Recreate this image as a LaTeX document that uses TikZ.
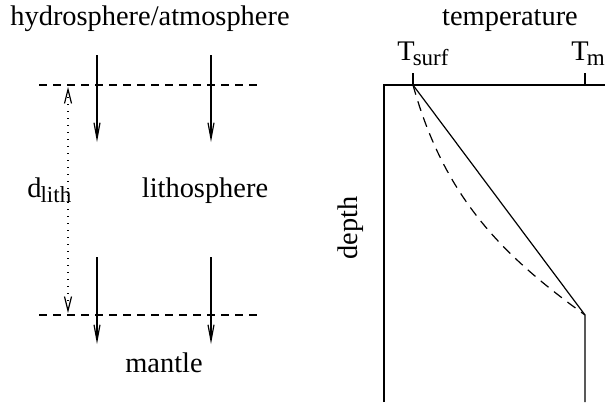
\documentclass[tikz,border=0pt]{standalone}
\usepackage{fontspec}
\setmainfont{Liberation Serif}
\usetikzlibrary{arrows.meta}
\tikzset{
  lbl/.style={inner sep=0pt, font=\fontsize{14.2}{17}\selectfont},
  flow/.style={line width=0.6pt, -{Straight Barb[length=8pt,width=3pt]}},
  bound/.style={line width=0.6pt, dash pattern=on 4pt off 3pt},
  thick1/.style={line width=0.6pt},
}
\newcommand{\subtxt}[1]{\raisebox{-0.45ex}{\fontsize{11.5}{13}\selectfont #1}}
\begin{document}
\begin{tikzpicture}[x=0.5pt,y=-0.5pt]
\useasboundingbox (0,0) rectangle (605,402);
% left panel
\node[lbl,anchor=base] (hyd) at (150,25) {hydrosphere/atmosphere};
\coordinate (dt1) at (39,85);
\coordinate (dt2) at (262,85);
\coordinate (db1) at (39,315);
\coordinate (db2) at (262,315);
\draw[bound] (dt1) -- (dt2);
\draw[bound] (db1) -- (db2);
\coordinate (a1s) at (97,55);  \coordinate (a1e) at (97,142);
\coordinate (a2s) at (211,55); \coordinate (a2e) at (211,142);
\coordinate (a3s) at (97,257); \coordinate (a3e) at (97,344);
\coordinate (a4s) at (211,257); \coordinate (a4e) at (211,344);
\draw[flow] (a1s) -- (a1e);
\draw[flow] (a2s) -- (a2e);
\draw[flow] (a3s) -- (a3e);
\draw[flow] (a4s) -- (a4e);
\coordinate (dd1) at (68,87);
\coordinate (dd2) at (68,313);
\draw[line width=0.6pt, dash pattern=on 0.7pt off 2.8pt, {Straight Barb[length=7pt,width=3.5pt]}-{Straight Barb[length=7pt,width=3.5pt]}] (dd1) -- (dd2);
\node[lbl,anchor=base west] (dl) at (27,197) {d\kern-0.5pt\subtxt{lith}};
\node[lbl,anchor=base] (lith) at (205,197) {lithosphere};
\node[lbl,anchor=base] (man) at (164,372) {mantle};
% right panel
\node[lbl,anchor=base] (temp) at (510,25) {temperature};
\coordinate (ts) at (413,85);
\coordinate (tm) at (585,85);
\coordinate (tst) at (413,73);
\coordinate (tmt) at (585,73);
\coordinate (corner) at (384,85);
\coordinate (right) at (605,85);
\coordinate (lbot) at (384,402);
\coordinate (bend) at (585,315);
\coordinate (rbot) at (585,402);
\draw[thick1] (lbot) -- (corner) -- (right);
\draw[thick1] (ts) -- (tst);
\draw[thick1] (tm) -- (tmt);
\draw[thick1] (ts) -- (bend) -- (rbot);
\draw[line width=0.6pt, dash pattern=on 5pt off 3.5pt] (ts) .. controls (445,200) and (505,257) .. (bend);
\node[lbl,anchor=base west] (tsl) at (397,60) {T\kern-1pt\subtxt{surf}};
\node[lbl,anchor=base west] (tml) at (571,60) {T\kern-1pt\subtxt{m}};
\node[lbl,anchor=base,rotate=90] (dep) at (357,228) {depth};
\end{tikzpicture}
\end{document}
